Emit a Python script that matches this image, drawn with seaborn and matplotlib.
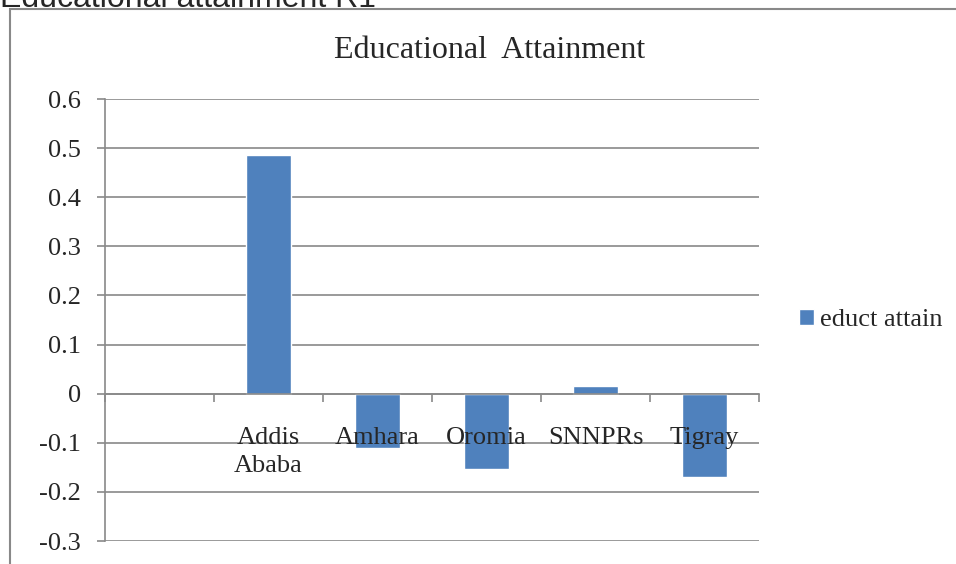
import numpy as np
import pandas as pd
import seaborn as sns
from matplotlib import pyplot as plt
from matplotlib.patches import Rectangle
from matplotlib.ticker import FixedLocator

# data (first category slot is empty in the original)
regions = ["", "Addis\nAbaba", "Amhara", "Oromia", "SNNPRs", "Tigray"]
educ_attain = [np.nan, 0.486, -0.110, -0.153, 0.015, -0.169]
series_name = "educt attain"
chart_title = "Educational  Attainment"
y_ticks = [-0.3, -0.2, -0.1, 0, 0.1, 0.2, 0.3, 0.4, 0.5, 0.6]
y_tick_labels = ["-0.3", "-0.2", "-0.1", "0", "0.1", "0.2", "0.3", "0.4", "0.5", "0.6"]

sns.set_style("white")
plt.rcParams['font.family'] = ['Liberation Serif', 'DejaVu Serif']

W, H = 956, 564
fig = plt.figure(figsize=(W / 100, H / 100), dpi=100)
grid_c = "#898989"

# plot area in pixel coords
left, right, top, bottom = 105, 759, 99, 541
ax = fig.add_axes([left / W, 1 - bottom / H, (right - left) / W, (bottom - top) / H])

df = pd.DataFrame({"region": regions, "value": educ_attain})
sns.barplot(data=df.dropna(), x="region", y="value", order=regions, ax=ax,
            color="#4F81BD", saturation=1, width=0.405, label=series_name)
handles, labels = ax.get_legend_handles_labels()
if ax.get_legend() is not None:
    ax.get_legend().remove()

ax.set_xlim(-0.5, len(regions) - 0.5)
ax.set_ylim(-0.3, 0.6)
ax.set_yticks(y_ticks)
ax.set_yticklabels(y_tick_labels)
ax.set_xlabel("")
ax.set_ylabel("")

# gridlines behind the bars, category labels on top of them
ax.yaxis.grid(True, color=grid_c, linewidth=1.2)
ax.set_axisbelow(True)
ax.xaxis.set_zorder(3)

for s in ["top", "right"]:
    ax.spines[s].set_visible(False)
ax.spines["left"].set_color(grid_c)
ax.spines["left"].set_linewidth(1.2)
ax.spines["bottom"].set_position(("data", 0))
ax.spines["bottom"].set_color(grid_c)
ax.spines["bottom"].set_linewidth(1.2)

ax.tick_params(axis="y", which="major", length=5.5, width=1.2, color=grid_c,
               labelsize=19, pad=12, left=True)
ax.tick_params(axis="x", which="major", length=0, labelsize=19, pad=24)
ax.xaxis.set_minor_locator(FixedLocator(np.arange(-0.5, len(regions), 1.0)))
ax.tick_params(axis="x", which="minor", length=5.5, width=1.2, color=grid_c,
               direction="out", bottom=True)
for lbl in ax.get_xticklabels():
    lbl.set_linespacing(1.35)
    lbl.set_verticalalignment("top")

# chart title
fig.text(490 / W, 1 - 51 / H, chart_title, ha="center", va="center", fontsize=23)

# legend
fig.legend(handles, labels, loc="center left", bbox_to_anchor=(799 / W, 1 - 320 / H),
           frameon=False, fontsize=19, handlelength=0.55, handleheight=0.55,
           handletextpad=0.25, borderaxespad=0, borderpad=0)

# outer chart border (runs off the page on the right and bottom)
fig.patches.append(Rectangle((10 / W, -0.1), 1.2, 1 - 9 / H + 0.1,
                             transform=fig.transFigure, fill=False,
                             edgecolor=grid_c, linewidth=1.5))

# caption partly cut off at the top of the image
fig.text(0, 1 - 7 / H, "Educational attainment R1", ha="left", va="baseline",
         fontsize=23, family=["Liberation Sans", "DejaVu Sans"])

fig.savefig("out.png", dpi=100)
